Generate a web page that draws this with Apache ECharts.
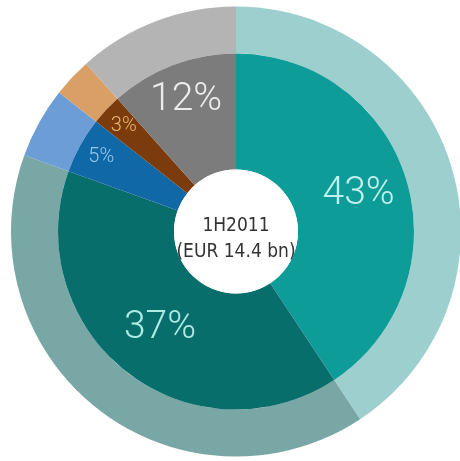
<!DOCTYPE html>
<html>
<head>
<meta charset="utf-8">
<script src="https://cdn.jsdelivr.net/npm/echarts@6/dist/echarts.min.js"></script>
<style>
    html, body { margin: 0; padding: 0; background: #fff; }
    #chart { width: 460px; height: 461px; }
</style>
</head>
<body>
<div id="chart"></div>
<script>
// slice sizes as drawn (angles), printed labels as written
const segments = ["Segment 1", "Segment 2", "Segment 3", "Segment 4", "Segment 5"];
const shares = [40.7, 39.8, 5.1, 2.8, 11.6];
const shareLabels = ["43%", "37%", "5%", "3%", "12%"];
const centerLines = ["1H2011", "(EUR 14.4 bn)"];

const innerColors = ["#0e9c98", "#086e6b", "#1068a6", "#7b3b0c", "#7c7c7c"];
const outerColors = ["#9dcfcf", "#78a7a5", "#6c9dd6", "#d99f66", "#b4b4b4"];
const labelColors = ["#c2f1ed", "#b0eae4", "#95c9ec", "#eab56f", "#ececec"];

const CENTER = [236, 231.5];
const HOLE = 62;
const INNER = 178;
const OUTER = 225;
const FONT = "Roboto, 'Noto Sans', sans-serif";

const chart = echarts.init(document.getElementById("chart"));

const ringData = (colors, showIdx, fontSize) =>
    segments.map((name, i) => ({
        name,
        value: shares[i],
        itemStyle: { color: colors ? colors[i] : "transparent" },
        label: {
            show: showIdx.includes(i),
            formatter: shareLabels[i],
            color: labelColors[i],
            fontSize,
            fontFamily: FONT,
            fontWeight: 300
        }
    }));

// label-only ring: inside label sits at (r0 + r) / 2
const labelRing = (labelRadius, showIdx, fontSize) => ({
    type: "pie",
    center: CENTER,
    radius: [HOLE, 2 * labelRadius - HOLE],
    startAngle: 90,
    silent: true,
    z: 5,
    label: { position: "inside" },
    labelLine: { show: false },
    emphasis: { disabled: true },
    data: ringData(null, showIdx, fontSize)
});

chart.setOption({
    animation: false,
    series: [
        {
            type: "pie",
            center: CENTER,
            radius: [INNER, OUTER],
            startAngle: 90,
            silent: true,
            label: { show: false },
            labelLine: { show: false },
            data: ringData(outerColors, [], 12)
        },
        {
            type: "pie",
            center: CENTER,
            radius: [HOLE, INNER],
            startAngle: 90,
            silent: true,
            label: { position: "inside" },
            labelLine: { show: false },
            data: ringData(innerColors, [1], 39)
        },
        labelRing(125, [0], 39),
        labelRing(137, [4], 39),
        labelRing(151, [2, 3], 20),
        {
            type: "pie",
            center: CENTER,
            radius: [0, HOLE],
            silent: true,
            itemStyle: { color: "#ffffff" },
            label: {
                position: "center",
                formatter: centerLines.join("\n"),
                color: "#333333",
                fontSize: 19,
                lineHeight: 26,
                offset: [0, 8],
                fontFamily: "'Liberation Sans Narrow', 'DejaVu Sans Condensed', Roboto, sans-serif"
            },
            labelLine: { show: false },
            data: [{ name: "total", value: 1 }]
        }
    ]
});
</script>
</body>
</html>
